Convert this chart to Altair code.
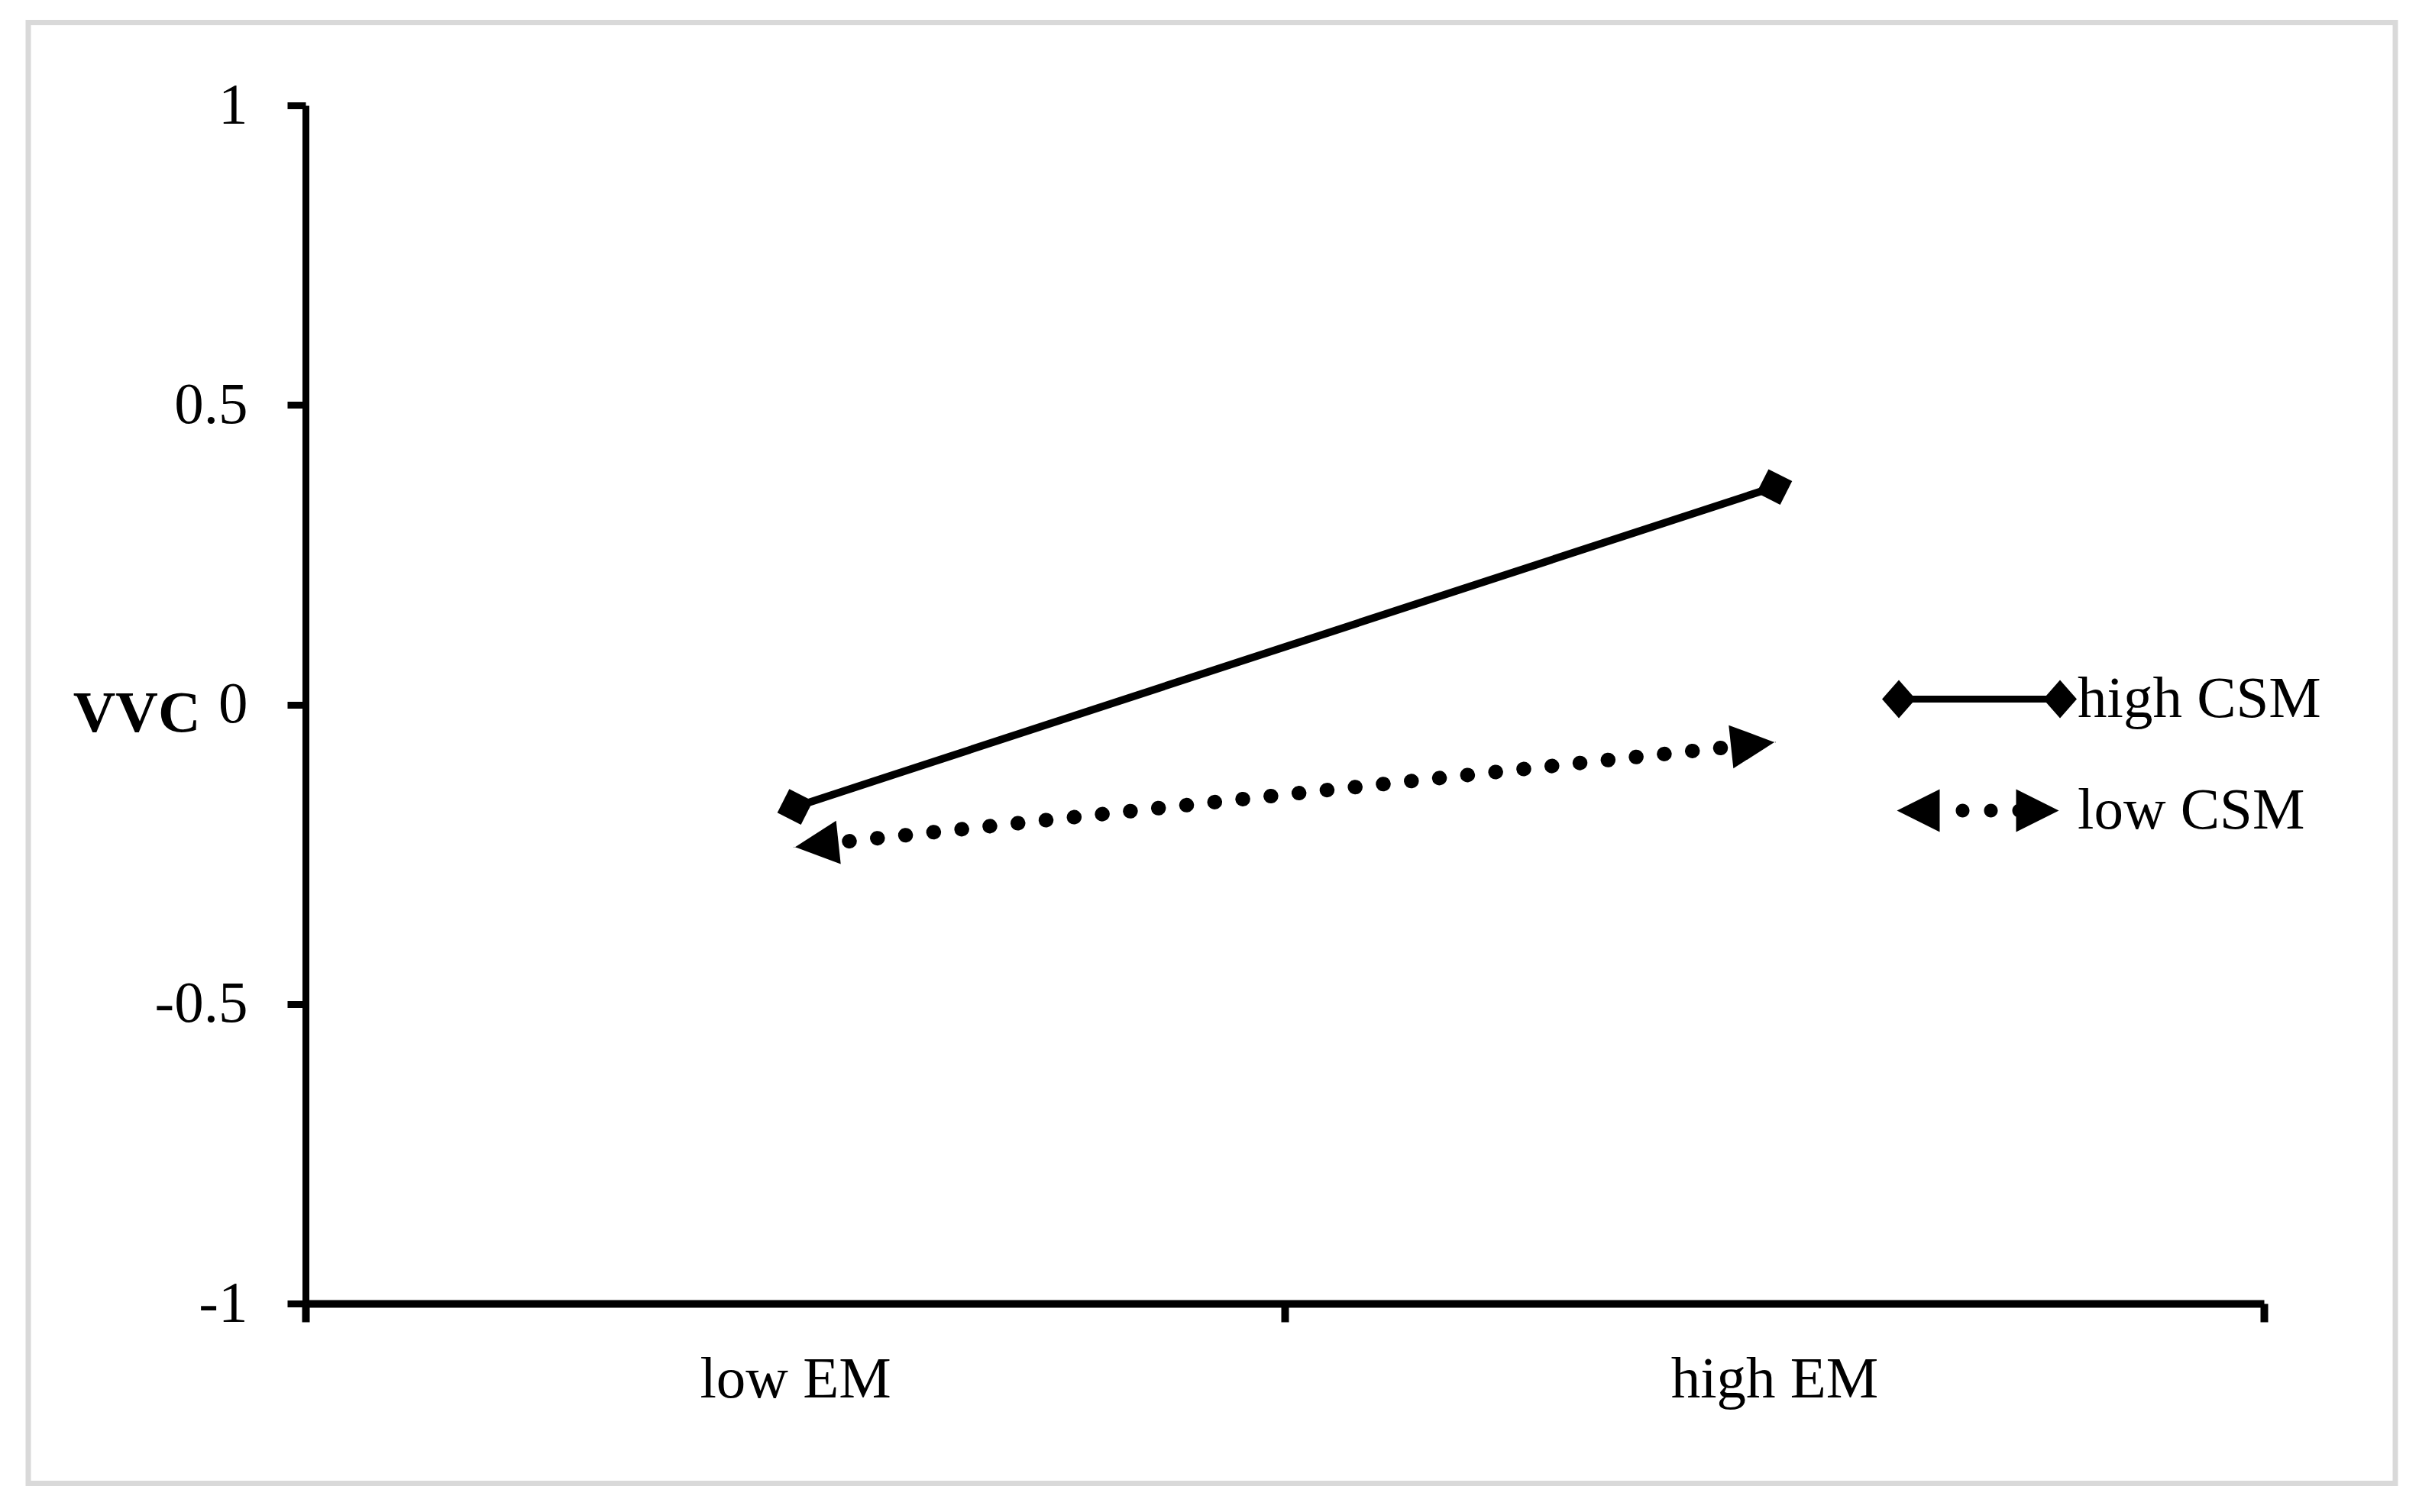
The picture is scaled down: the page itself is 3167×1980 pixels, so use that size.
import math
import altair as alt
import pandas as pd

# ---- data ----
em_levels = ["low EM", "high EM"]
series_names = ["high CSM", "low CSM"]
high_csm = [-0.171, 0.363]
low_csm = [-0.238, -0.063]
y_ticks = [-1, -0.5, 0, 0.5, 1]

W, H = 2564, 1569
FONT = "Liberation Serif"
FS = 77

rows = []
for name, vals in zip(series_names, [high_csm, low_csm]):
    for e, v in zip(em_levels, vals):
        rows.append({"em": e, "series": name, "value": v})
df = pd.DataFrame(rows)


def screen_angle(vals):
    dx = W / len(em_levels)
    dy = (vals[1] - vals[0]) * H / 2.0
    return math.degrees(math.atan2(-dy, dx)) % 360


def screen_len(vals):
    dx = W / len(em_levels)
    dy = (vals[1] - vals[0]) * H / 2.0
    return math.hypot(dx, dy)


ang_high = screen_angle(high_csm)
ang_low = screen_angle(low_csm)

# dotted line: period 37 px, centre the dots between the two arrow heads
PERIOD = 37.0
L = screen_len(low_csm)
n = int((L - 2 * 30) // PERIOD)
margin = (L - n * PERIOD) / 2.0
dash_offset = (PERIOD - margin) % PERIOD

# legend symbols (custom paths, unit = sqrt(size)/2 = 25 px)
path_high = ("M-5.1,0L-4.22,-1L-3.34,0L-4.22,1Z"
             "M3.34,0L4.22,-1L5.1,0L4.22,1Z"
             "M-4.22,-0.18L4.22,-0.18L4.22,0.18L-4.22,0.18Z")


def circ(cx, r=0.36):
    return (f"M{cx - r:.2f},0A{r},{r} 0 1,1 {cx + r:.2f},0"
            f"A{r},{r} 0 1,1 {cx - r:.2f},0Z")


path_low = ("M-4.32,0L-2.08,-1.12L-2.08,1.12Z"
            "M4.16,0L1.92,1.12L1.92,-1.12Z"
            + circ(-0.88) + circ(0.6) + circ(2.08))

x_enc = alt.X(
    "em:N",
    sort=em_levels,
    bandPosition=0.5,
    scale=alt.Scale(type="band", domain=em_levels, paddingInner=0, paddingOuter=0),
    axis=alt.Axis(
        title=None,
        tickBand="extent",
        labelFont=FONT,
        labelFontSize=FS,
        labelColor="black",
        labelAngle=0,
        labelPadding=37,
        labelLimit=2000,
        tickSize=24,
        tickWidth=10,
        tickColor="black",
        domainColor="black",
        domainWidth=10,
        grid=False,
    ),
)
y_enc = alt.Y(
    "value:Q",
    scale=alt.Scale(domain=[-1, 1], nice=False, zero=False),
    axis=alt.Axis(
        values=y_ticks,
        labelExpr="toString(datum.value)",
        labelFont=FONT,
        labelFontSize=FS,
        labelColor="black",
        labelPadding=52,
        labelLimit=2000,
        tickSize=24,
        tickWidth=9,
        tickColor="black",
        domainColor="black",
        domainWidth=9,
        grid=False,
        title="VVC",
        titleAngle=0,
        titleFont=FONT,
        titleFontSize=FS,
        titleFontWeight="bold",
        titleColor="black",
        titleAlign="right",
        titleBaseline="alphabetic",
        titleX=-138,
        titleY=819,
        titleLimit=2000,
    ),
)

base = alt.Chart(df).encode(x=x_enc, y=y_enc)

frame = alt.Chart(pd.DataFrame({"f": [0]})).mark_rect(
    fillOpacity=0, stroke="#d9d9d9", strokeWidth=7
).encode(
    x=alt.value(-363), x2=alt.value(2736), y=alt.value(-108.5), y2=alt.value(1804.5)
)

line_high = base.transform_filter(alt.datum.series == "high CSM").mark_line(
    color="black", strokeWidth=10
)
line_low = base.transform_filter(alt.datum.series == "low CSM").mark_line(
    color="black", strokeWidth=19, strokeDash=[0.5, PERIOD - 0.5],
    strokeDashOffset=dash_offset, strokeCap="round"
)

legend_layer = base.mark_point(filled=True, size=1, color="black", opacity=1).encode(
    shape=alt.Shape(
        "series:N",
        scale=alt.Scale(domain=series_names, range=[path_high, path_low]),
        legend=alt.Legend(
            title=None,
            orient="none",
            legendX=2153,
            legendY=739,
            symbolSize=2500,
            symbolStrokeWidth=0,
            symbolFillColor="black",
            symbolOpacity=1,
            labelFont=FONT,
            labelFontSize=FS,
            labelColor="black",
            labelOffset=90,
            labelLimit=2000,
            rowPadding=68,
            padding=0,
        ),
    )
)

diamonds = base.transform_filter(alt.datum.series == "high CSM").mark_point(
    shape="diamond", filled=True, size=2400, angle=ang_high, color="black", opacity=1
)
arrow_left = base.transform_filter(
    (alt.datum.series == "low CSM") & (alt.datum.em == "low EM")
).mark_point(
    shape="M0,0L2,-1L2,1Z", filled=True, size=3249, angle=ang_low, color="black", opacity=1
)
arrow_right = base.transform_filter(
    (alt.datum.series == "low CSM") & (alt.datum.em == "high EM")
).mark_point(
    shape="M0,0L-2,-1L-2,1Z", filled=True, size=3249, angle=ang_low, color="black", opacity=1
)

chart = (
    alt.layer(frame, line_high, line_low, legend_layer, diamonds, arrow_left, arrow_right)
    .properties(
        width=W,
        height=H,
        autosize=alt.AutoSizeParams(type="none"),
        padding={"left": 392, "top": 130, "right": 185, "bottom": 250},
        background="white",
    )
    .configure_view(stroke=None)
)

chart.save("out.html", embed_options={"renderer": "svg", "actions": False})
